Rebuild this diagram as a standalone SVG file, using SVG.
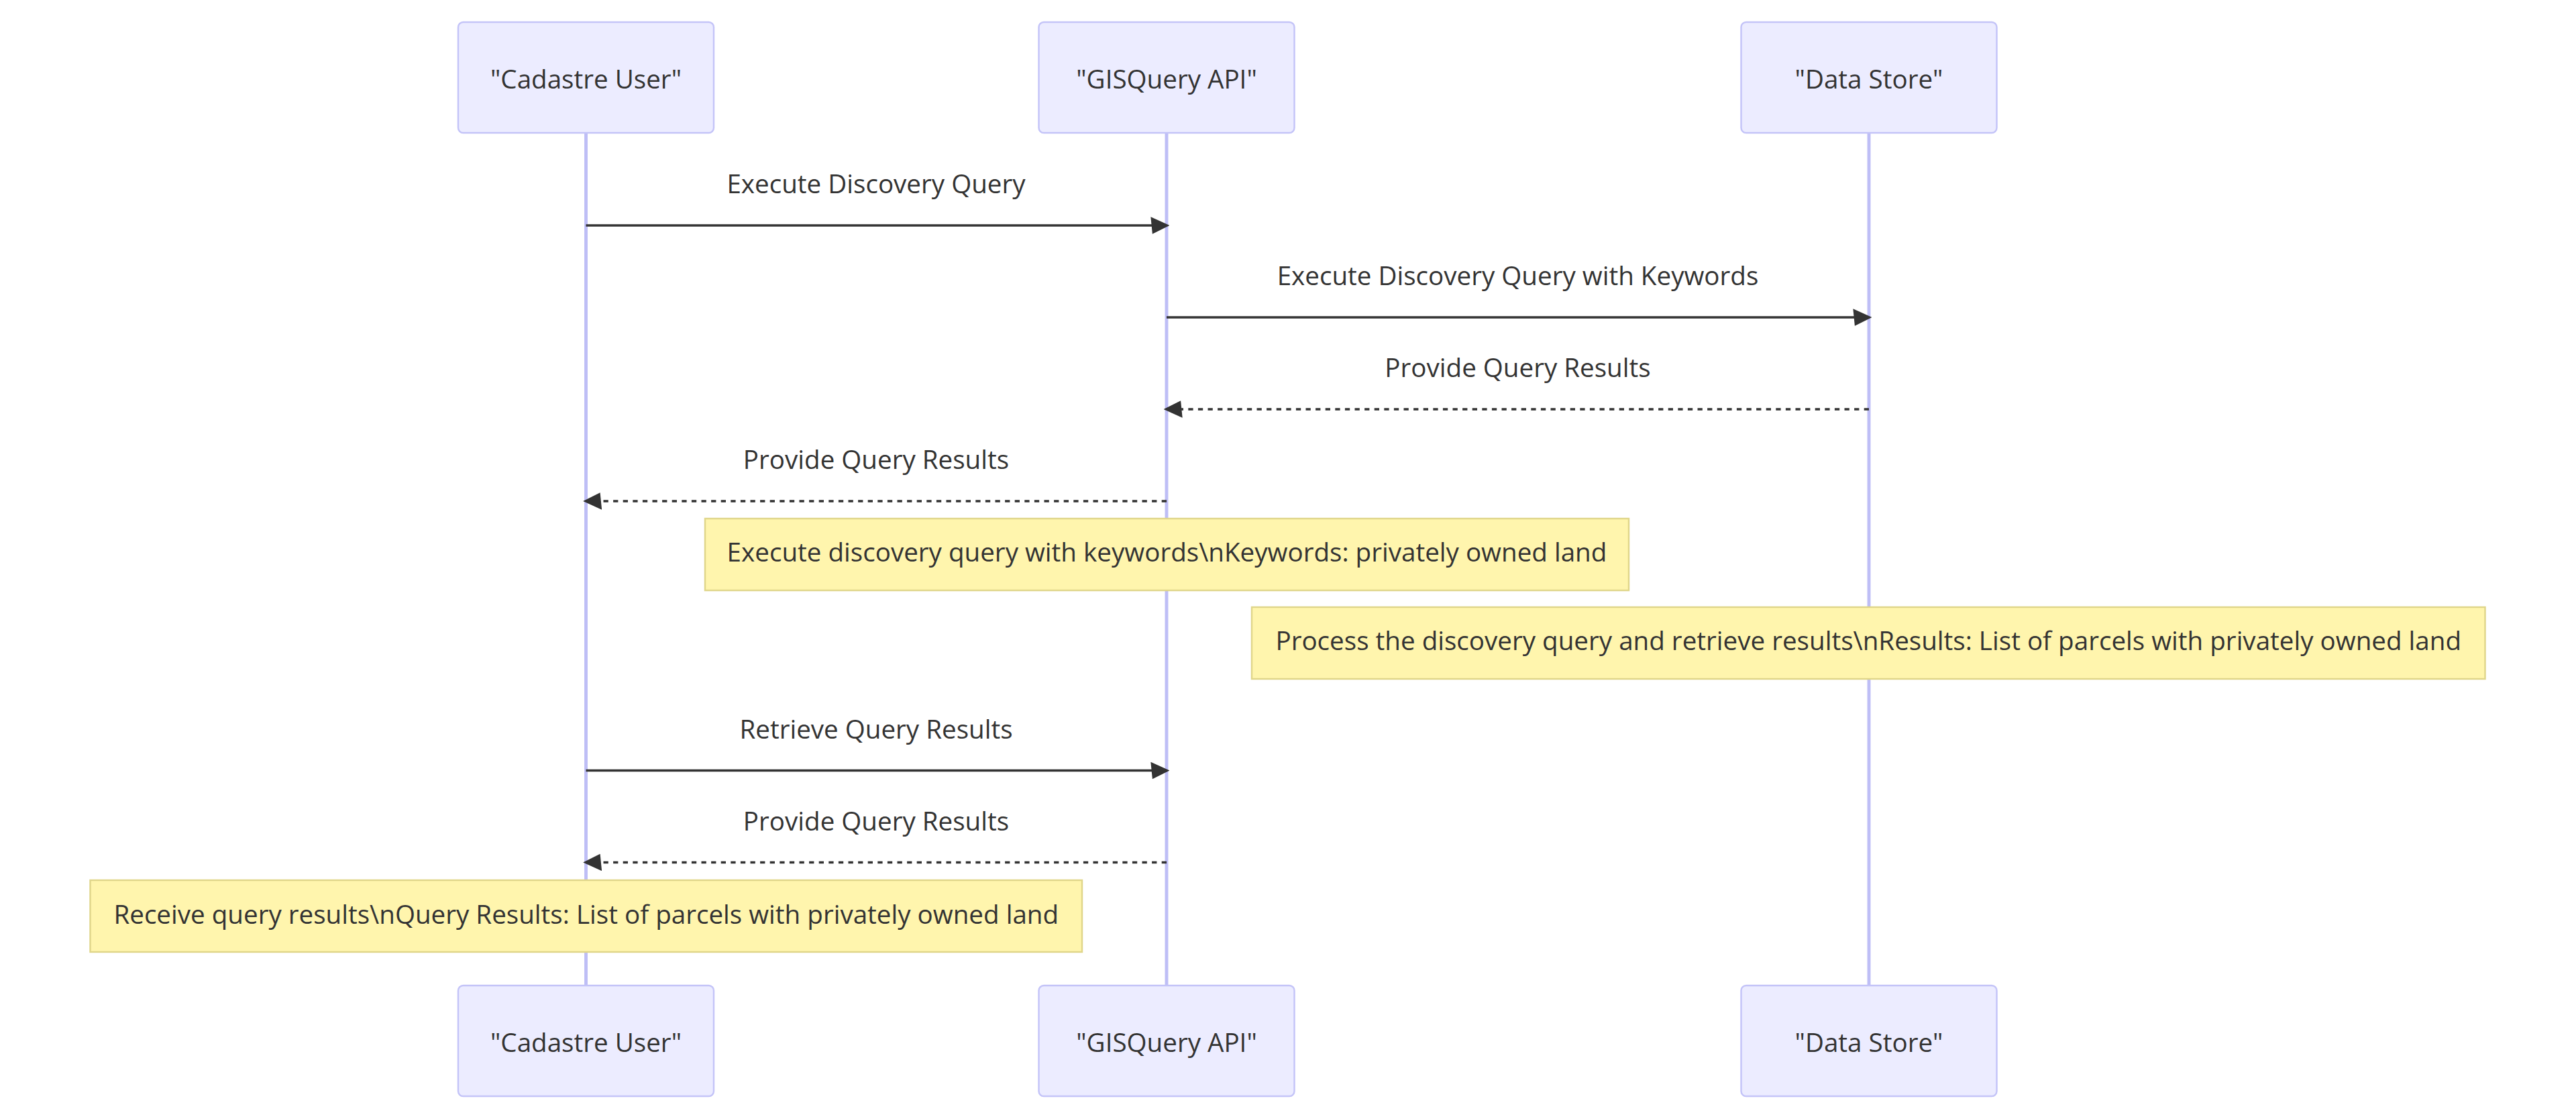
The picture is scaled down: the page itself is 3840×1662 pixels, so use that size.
<svg xmlns="http://www.w3.org/2000/svg" width="3840" height="1662" viewBox="0 0 3840 1662">
<style>
.bg{fill:#ffffff}
.actor rect{fill:#ECECFF;stroke:#C4C4F8;stroke-width:2.45}
.lifeline{stroke:#BEBEF6;stroke-width:4.9}
text{font-family:"Open Sans","Noto Sans","Liberation Sans",sans-serif;font-size:38.6px;fill:#333333;text-anchor:middle}
.msg{stroke:#333333;stroke-width:3.7;fill:none}
.dash{stroke-dasharray:7.3 7.3}
.note rect{fill:#FFF5AD;stroke:#E0D68A;stroke-width:2.45}
</style>
<defs>
<marker id="arrow" viewBox="-1 0 11 10" refX="7.9" refY="5" markerUnits="userSpaceOnUse" markerWidth="28" markerHeight="25.5" orient="auto">
<path d="M -1 0 L 10 5 L 0 10 z" fill="#333333"/>
</marker>
</defs>
<rect class="bg" x="0" y="0" width="3840" height="1662"/>
<g id="lifelines">
<line class="lifeline" x1="873.5" y1="198" x2="873.5" y2="1469"/>
<line class="lifeline" x1="1739" y1="198" x2="1739" y2="1469"/>
<line class="lifeline" x1="2786" y1="198" x2="2786" y2="1469"/>
</g>
<g id="actor-cadastre-top" class="actor"><rect x="683" y="33" width="381" height="165" rx="7.5"/><text x="873.5" y="132">"Cadastre User"</text></g>
<g id="actor-gis-top" class="actor"><rect x="1548.5" y="33" width="381" height="165" rx="7.5"/><text x="1739" y="132">"GISQuery API"</text></g>
<g id="actor-store-top" class="actor"><rect x="2595.5" y="33" width="381" height="165" rx="7.5"/><text x="2786" y="132">"Data Store"</text></g>
<g id="connectors">
<line class="msg" x1="873.5" y1="336" x2="1738" y2="336" marker-end="url(#arrow)"/>
<text x="1306" y="288">Execute Discovery Query</text>
<line class="msg" x1="1739" y1="473" x2="2785" y2="473" marker-end="url(#arrow)"/>
<text x="2262.5" y="425">Execute Discovery Query with Keywords</text>
<line class="msg dash" x1="2786" y1="610" x2="1740" y2="610" marker-end="url(#arrow)"/>
<text x="2262.5" y="562">Provide Query Results</text>
<line class="msg dash" x1="1739" y1="747" x2="874.5" y2="747" marker-end="url(#arrow)"/>
<text x="1306" y="699">Provide Query Results</text>
<line class="msg" x1="873.5" y1="1148.5" x2="1738" y2="1148.5" marker-end="url(#arrow)"/>
<text x="1306" y="1100.5">Retrieve Query Results</text>
<line class="msg dash" x1="1739" y1="1285.5" x2="874.5" y2="1285.5" marker-end="url(#arrow)"/>
<text x="1306" y="1237.5">Provide Query Results</text>
</g>
<g id="note-1" class="note"><rect x="1051" y="773" width="1377" height="107"/><text x="1739.5" y="837">Execute discovery query with keywords\nKeywords: privately owned land</text></g>
<g id="note-2" class="note"><rect x="1866" y="905" width="1838.5" height="107"/><text x="2785.25" y="969">Process the discovery query and retrieve results\nResults: List of parcels with privately owned land</text></g>
<g id="note-3" class="note"><rect x="134.5" y="1312" width="1478.5" height="107"/><text x="873.75" y="1377">Receive query results\nQuery Results: List of parcels with privately owned land</text></g>
<g id="actor-cadastre-bottom" class="actor"><rect x="683" y="1469" width="381" height="165" rx="7.5"/><text x="873.5" y="1568">"Cadastre User"</text></g>
<g id="actor-gis-bottom" class="actor"><rect x="1548.5" y="1469" width="381" height="165" rx="7.5"/><text x="1739" y="1568">"GISQuery API"</text></g>
<g id="actor-store-bottom" class="actor"><rect x="2595.5" y="1469" width="381" height="165" rx="7.5"/><text x="2786" y="1568">"Data Store"</text></g>
</svg>
